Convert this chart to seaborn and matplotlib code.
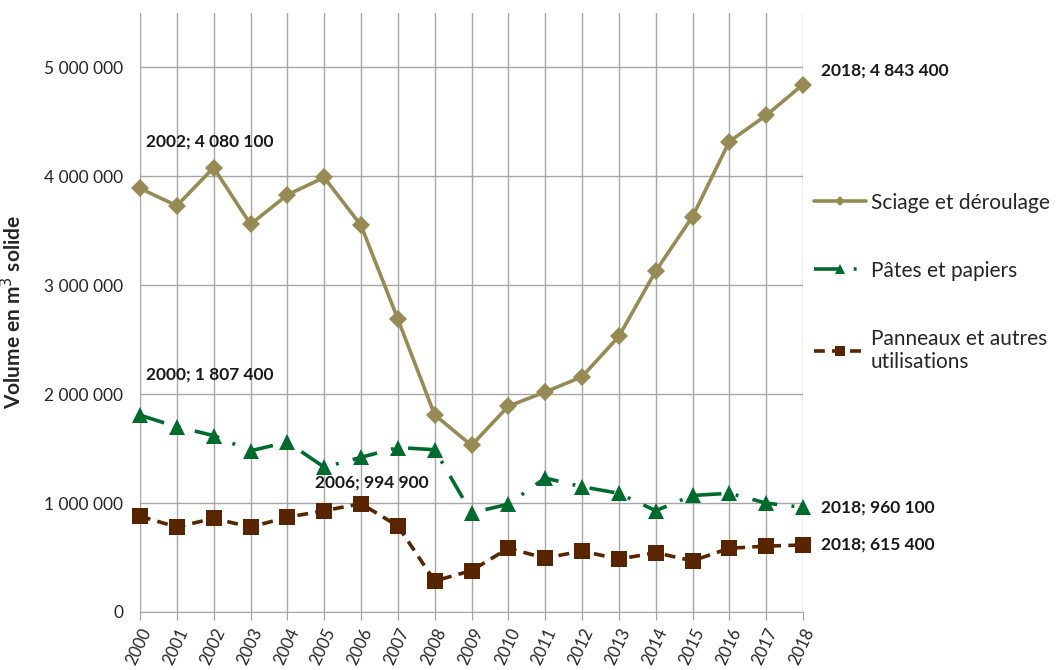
import matplotlib
matplotlib.use("Agg")
import matplotlib.pyplot as plt
import matplotlib.ticker as mticker
import seaborn as sns
import pandas as pd

# Données (m3 solide)
annees = list(range(2000, 2019))
sciage = [3890000, 3730000, 4080100, 3560000, 3830000, 3990000, 3550000, 2690000,
          1810000, 1530000, 1890000, 2020000, 2160000, 2530000, 3130000, 3630000,
          4320000, 4560000, 4843400]
pates = [1807400, 1700000, 1620000, 1480000, 1560000, 1330000, 1420000, 1510000,
         1490000, 910000, 990000, 1230000, 1150000, 1090000, 930000, 1070000,
         1090000, 1000000, 960100]
panneaux = [880000, 780000, 860000, 780000, 870000, 930000, 994900, 790000,
            285000, 380000, 585000, 495000, 560000, 485000, 545000, 470000,
            585000, 605000, 615400]

noms = ["Sciage et déroulage", "Pâtes et papiers", "Panneaux et autres\nutilisations"]

df = pd.DataFrame({"annee": annees, noms[0]: sciage, noms[1]: pates, noms[2]: panneaux})

sns.set_style("white")
plt.rcParams["font.family"] = ["Lato", "DejaVu Sans"]

fig = plt.figure(figsize=(10.61, 6.70), dpi=100)
ax = fig.add_axes([140 / 1061, 1 - 612 / 670, (803 - 140) / 1061, (612 - 13) / 670])

styles = [
    dict(color="#968b54", marker="D", markersize=9, linestyle="-"),
    dict(color="#006b2d", marker="^", markersize=11, dashes=(7, 4, 0.8, 4)),
    dict(color="#582500", marker="s", markersize=11, dashes=(3, 2)),
]
for nom, st in zip(noms, styles):
    st = dict(st)
    dashes = st.pop("dashes", None)
    sns.lineplot(data=df, x="annee", y=nom, ax=ax, label=nom, linewidth=2.6,
                 markeredgewidth=0, clip_on=False, zorder=3, **st)
    if dashes is not None:
        ax.lines[-1].set_dashes(dashes)

ax.set_xlim(2000, 2018)
ax.set_ylim(0, 5500000)
ax.set_xticks(annees)
ax.set_xticklabels([str(a) for a in annees], rotation=65, ha="right",
                   rotation_mode="anchor", fontsize=12)
ax.set_yticks(range(0, 6000000, 1000000))
ax.yaxis.set_major_formatter(mticker.FuncFormatter(lambda v, p: f"{int(v):,}".replace(",", " ")))
ax.tick_params(axis="y", labelsize=12.5, length=0, pad=12)
ax.tick_params(axis="x", length=6, color="#a0a0a0", pad=4, bottom=True)
ax.grid(True, color="#a6a6a6", linewidth=1)
for s in ["top", "right", "left"]:
    ax.spines[s].set_visible(False)
ax.spines["bottom"].set_color("#a6a6a6")
ax.set_xlabel("")
ax.set_ylabel("Volume en m$^3$ solide", fontsize=15, fontweight="bold", labelpad=14)

# Étiquettes de données
kw = dict(fontsize=12.5, fontweight="bold", color="#1a1a1a", textcoords="offset points", va="center")
ax.annotate("2002; 4 080 100", (2000, 4080100), xytext=(4, 19), **kw)
ax.annotate("2000; 1 807 400", (2000, 1807400), xytext=(4, 29), **kw)
ax.annotate("2006; 994 900", (2006, 994900), xytext=(8, 15), ha="center", **kw)
ax.annotate("2018; 4 843 400", (2018, 4843400), xytext=(13, 10), **kw)
ax.annotate("2018; 960 100", (2018, 960100), xytext=(13, 0), **kw)
ax.annotate("2018; 615 400", (2018, 615400), xytext=(13, 0), **kw)

handles, labels = ax.get_legend_handles_labels()
leg = ax.legend(handles, labels, loc="upper left", bbox_to_anchor=(795 / 1061, 1 - 174 / 670),
                bbox_transform=fig.transFigure, frameon=False, fontsize=15,
                labelspacing=2.3, handlelength=2.5, handletextpad=0.25, markerscale=0.6)

fig.savefig("out.png", dpi=100)
